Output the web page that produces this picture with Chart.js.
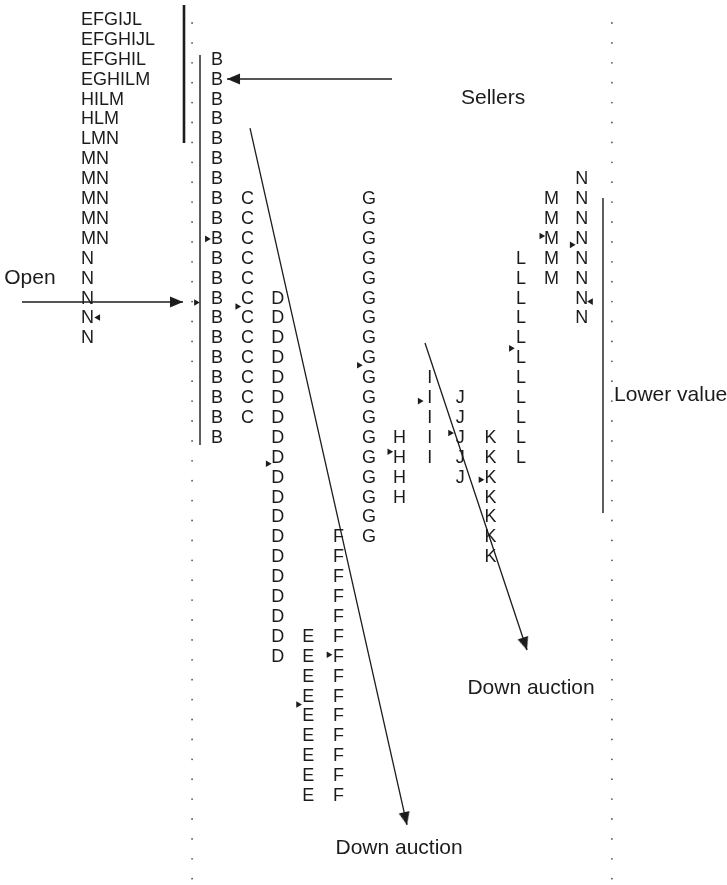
<!DOCTYPE html>
<html><head><meta charset="utf-8">
<script src="https://cdn.jsdelivr.net/npm/chart.js@4.4.1/dist/chart.umd.min.js"></script>
<style>html,body{margin:0;padding:0;background:#fff;} #wrap{width:727px;height:885px;}</style>
</head><body><div id="wrap"><canvas id="c" width="727" height="885"></canvas></div>
<script>
// ---------- data (column = time period, row = price level from the top) ----------
const periods  = ['B','C','D','E','F','G','H','I','J','K','L','M','N'];
const periodCol = [1,2,3,4,5,6,7,8,9,10,11,12,13];
const firstRow = [2, 9, 14, 31, 26, 9, 21, 18, 19, 21, 12, 9, 8];
const lastRow  = [21, 20, 32, 39, 39, 26, 24, 22, 23, 27, 22, 13, 15];

// prior-day profile, compressed letters per price row
const priorRows    = [0,1,2,3,4,5,6,7,8,9,10,11,12,13,14,15,16];
const priorLetters = ['EFGIJL','EFGHIJL','EFGHIL','EGHILM','HILM','HLM','LMN','MN','MN','MN','MN','MN','N','N','N','N','N'];
const priorCol = -3.47;

// price ladder shown by dotted guides
const ladderTop = 0, ladderBottom = 43;
const ladderCols = [0.18, 13.99];

// small period-open markers (right pointing) next to letters
const markPeriod = ['B','C','D','E','F','G','H','I','J','K','L','M','N'];
const markRow    = [11, 14.4, 22.3, 34.4, 31.9, 17.35, 21.7, 19.15, 20.75, 23.1, 16.5, 10.85, 11.3];
const openMarkCol = 0.31, openMarkRow = 14.2;
// left pointing markers (close)
const closeMarkCol = [13.3, -2.91];
const closeMarkRow = [14.15, 14.95];

// arrows [col,row] from -> to
const arrowFrom = [[6.757, 2.965], [-5.414, 14.17], [2.086, 5.43], [7.842, 16.23]];
const arrowTo   = [[1.33, 2.965], [-0.118, 14.17], [7.25, 40.45], [11.197, 31.66]];

// vertical rules
const ruleCol    = [-0.0855, 0.441, 13.697];
const ruleTop    = [-0.75, 1.76, 8.94];
const ruleBottom = [6.18, 21.36, 24.77];
const ruleWidth  = [2.6, 1.4, 1.4];

// notes
const noteText  = ['Sellers', 'Open', 'Down auction', 'Down auction', 'Lower value'];
const noteCol   = [10.08, -6.0, 6.99, 11.33, 14.06];
const noteRow   = [3.92, 12.96, 41.6, 33.57, 18.84];
const noteAlign = ['center', 'left', 'center', 'center', 'left'];

// ---------- chart ----------
const INK = '#1c1c1c';
function makeHead(len, wid) {
  const c = document.createElement('canvas');
  c.width = 14; c.height = 2 * len + 2;
  const g = c.getContext('2d');
  const cx = c.width / 2, cy = c.height / 2;
  g.fillStyle = INK;
  g.beginPath(); g.moveTo(cx, cy); g.lineTo(cx - wid / 2, cy + len); g.lineTo(cx + wid / 2, cy + len); g.closePath(); g.fill();
  return c;
}
const head = makeHead(13, 11);

const datasets = [];
// dotted ladders
ladderCols.forEach(col => {
  const pts = [];
  for (let r = ladderTop; r <= ladderBottom; r++) pts.push({x: col, y: r + 0.15});
  datasets.push({type: 'scatter', data: pts, pointRadius: 0.9, pointBackgroundColor: '#555', pointBorderWidth: 0});
});
// rules
ruleCol.forEach((c, i) => {
  datasets.push({type: 'line', data: [{x: c, y: ruleTop[i]}, {x: c, y: ruleBottom[i]}],
    borderColor: INK, borderWidth: ruleWidth[i], pointRadius: 0, fill: false, tension: 0});
});
// arrows
arrowFrom.forEach((f, i) => {
  datasets.push({type: 'line', data: [{x: f[0], y: f[1]}, {x: arrowTo[i][0], y: arrowTo[i][1]}],
    borderColor: INK, borderWidth: 1.3, fill: false, tension: 0,
    pointRadius: ctx => ctx.dataIndex === 1 ? 6 : 0,
    pointStyle: head,
    rotation: ctx => {
      const d = ctx.dataset.data, sx = ctx.chart.scales.x, sy = ctx.chart.scales.y;
      const dx = sx.getPixelForValue(d[1].x) - sx.getPixelForValue(d[0].x);
      const dy = sy.getPixelForValue(d[1].y) - sy.getPixelForValue(d[0].y);
      return Math.atan2(dx, -dy) * 180 / Math.PI;
    }});
});
// open markers
const openPts = markPeriod.map((p, i) => ({x: periodCol[periods.indexOf(p)] - 0.33, y: markRow[i]}));
openPts.push({x: openMarkCol, y: openMarkRow});
datasets.push({type: 'scatter', data: openPts, pointStyle: 'triangle', rotation: 90, pointRadius: 3.8,
  pointBackgroundColor: INK, pointBorderWidth: 0});
datasets.push({type: 'scatter', data: closeMarkCol.map((c, i) => ({x: c, y: closeMarkRow[i]})), pointStyle: 'triangle', rotation: -90, pointRadius: 3.8,
  pointBackgroundColor: INK, pointBorderWidth: 0});

const textPlugin = {
  id: 'profileText',
  beforeDatasetsDraw(chart) {
    const {ctx, scales: {x, y}} = chart;
    ctx.save();
    ctx.fillStyle = INK;
    ctx.textBaseline = 'middle';
    ctx.font = '18px "Liberation Sans", Arial, Helvetica, sans-serif';
    ctx.textAlign = 'center';
    periods.forEach((p, i) => {
      for (let r = firstRow[i]; r <= lastRow[i]; r++) ctx.fillText(p, x.getPixelForValue(periodCol[i]), y.getPixelForValue(r));
    });
    ctx.textAlign = 'left';
    priorLetters.forEach((s, i) => ctx.fillText(s, x.getPixelForValue(priorCol), y.getPixelForValue(priorRows[i])));
    ctx.font = '21px "Liberation Sans", Arial, Helvetica, sans-serif';
    noteText.forEach((t, i) => {
      ctx.textAlign = noteAlign[i];
      ctx.fillText(t, x.getPixelForValue(noteCol[i]), y.getPixelForValue(noteRow[i]));
    });
    ctx.restore();
  }
};

new Chart(document.getElementById('c'), {
  data: {datasets},
  options: {
    responsive: false, devicePixelRatio: 1, animation: false, events: [],
    layout: {padding: 0, autoPadding: false},
    plugins: {legend: {display: false}, tooltip: {enabled: false}},
    scales: {
      x: {type: 'linear', display: false, min: -6.138, max: 17.776},
      y: {type: 'linear', display: false, reverse: true, min: -1.005, max: 43.467}
    }
  },
  plugins: [textPlugin]
});
</script></body></html>
